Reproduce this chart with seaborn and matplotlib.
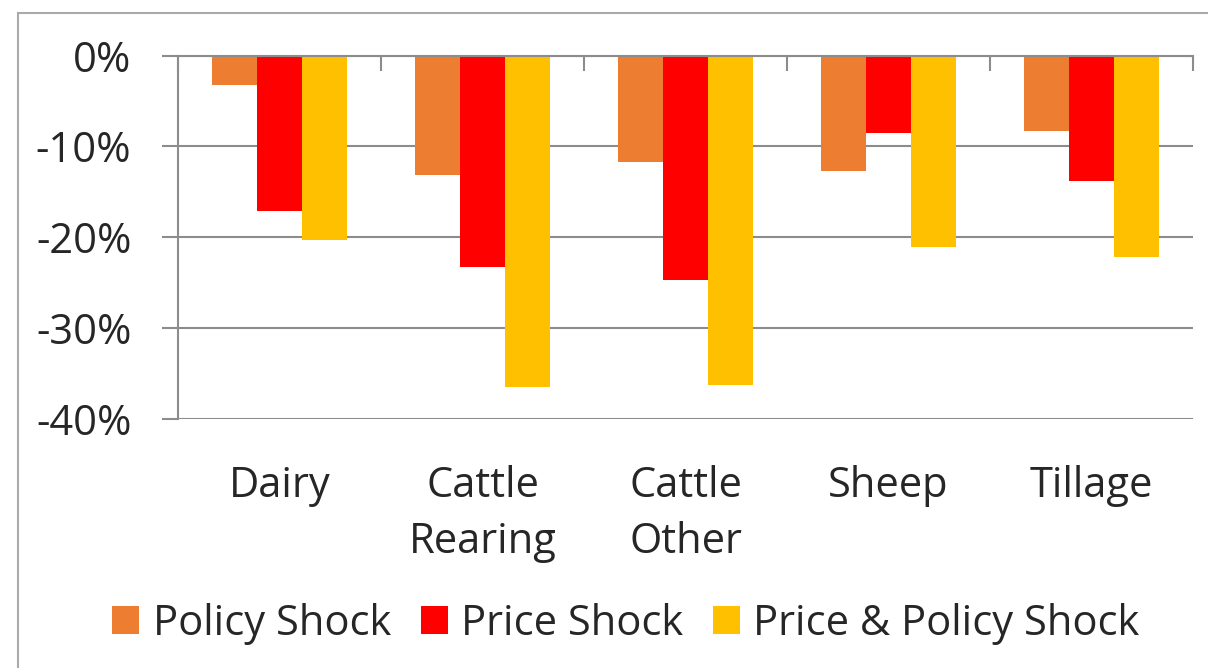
import matplotlib
matplotlib.use("Agg")
import matplotlib.pyplot as plt
import matplotlib.patches as mpatches
from matplotlib.ticker import FixedLocator
import seaborn as sns
import pandas as pd

categories = ["Dairy", "Cattle\nRearing", "Cattle\nOther", "Sheep", "Tillage"]
series_names = ["Policy Shock", "Price Shock", "Price & Policy Shock"]
policy_shock = [-3.2, -13.1, -11.7, -12.7, -8.3]
price_shock = [-17.1, -23.3, -24.7, -8.5, -13.8]
price_policy_shock = [-20.3, -36.5, -36.3, -21.1, -22.2]
y_ticks = [0, -10, -20, -30, -40]
y_tick_labels = ["0%", "-10%", "-20%", "-30%", "-40%"]
colors = ["#ED7D31", "#FF0000", "#FFC000"]

rows = []
for name, vals in zip(series_names, [policy_shock, price_shock, price_policy_shock]):
    for c, v in zip(categories, vals):
        rows.append({"category": c, "series": name, "value": v})
df = pd.DataFrame(rows)

sns.set_theme(style="white")
plt.rcParams["font.family"] = ["Open Sans", "DejaVu Sans"]

fig = plt.figure(figsize=(12.08, 6.68), dpi=100)
ax = fig.add_axes([178/1208, 1-419/668, (1193-178)/1208, (419-55.5)/668])

sns.barplot(data=df, x="category", y="value", hue="series", order=categories,
            hue_order=series_names, palette=colors, width=0.667, gap=0,
            saturation=1, ax=ax, legend=True, linewidth=0)

ax.set_ylim(-40, 0)
ax.set_xlim(-0.5, len(categories) - 0.5)
ax.set_yticks(y_ticks)
ax.set_yticklabels(y_tick_labels)
ax.set_xlabel("")
ax.set_ylabel("")

grid_c = "#8c8c8c"
ax.yaxis.grid(True, color=grid_c, linewidth=1.5)
ax.set_axisbelow(True)
for s in ["right", "bottom"]:
    ax.spines[s].set_visible(False)
for s in ["left", "top"]:
    ax.spines[s].set_visible(True)
    ax.spines[s].set_color(grid_c)
    ax.spines[s].set_linewidth(1.5)

ax.tick_params(axis="y", which="major", length=11.5, width=1.5, color=grid_c,
               labelsize=30, pad=22, left=True)
ax.tick_params(axis="x", which="major", length=0, labelsize=30, pad=33)
ax.xaxis.set_minor_locator(FixedLocator([i - 0.5 for i in range(len(categories) + 1)]))
ax.tick_params(axis="x", which="minor", top=True, bottom=False, direction="in",
               length=11, width=1.5, color=grid_c)
for lbl in ax.get_xticklabels():
    lbl.set_linespacing(1.45)

handles, labels = ax.get_legend_handles_labels()
ax.get_legend().remove()
fig.legend(handles, labels, loc="center", bbox_to_anchor=(626/1208, 1-624/668),
           ncol=3, frameon=False, fontsize=30, handlelength=0.65, handleheight=0.65,
           handletextpad=0.33, columnspacing=0.7)

border = mpatches.Rectangle((18/1208, -0.1), 1.2, (668-13)/668 + 0.1,
                            transform=fig.transFigure, fill=False,
                            edgecolor="#aaaaaa", linewidth=1.5)
fig.add_artist(border)

fig.savefig("out.png", dpi=100, facecolor="white")
